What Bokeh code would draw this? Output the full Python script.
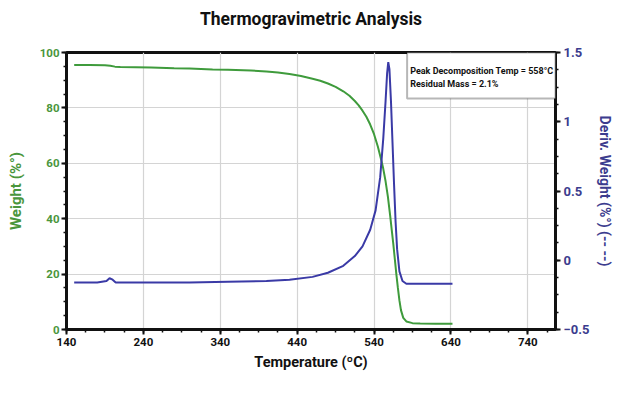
from bokeh.plotting import figure
from bokeh.models import LinearAxis, Range1d, FixedTicker, BoxAnnotation, Label, Title
from bokeh.embed import file_html
from bokeh.resources import INLINE

# ---- data ----
temp_w = [150, 170, 190, 197, 203, 210, 250, 280, 300, 330, 350, 380, 400, 415, 430, 445,
          460, 470, 480, 490, 500, 508, 515, 520, 525, 530, 535, 540, 545, 550, 552, 555,
          558, 561, 563, 565, 567, 569, 571, 573, 575, 578, 582, 590, 600, 620, 642]
weight = [95.5, 95.5, 95.4, 95.2, 94.9, 94.8, 94.6, 94.3, 94.2, 93.9, 93.8, 93.5, 93.1, 92.8, 92.2, 91.5,
          90.5, 89.8, 88.8, 87.6, 86.0, 84.4, 82.5, 80.9, 79.0, 76.8, 74.0, 70.5, 66.0, 60.5, 58.0, 53.5,
          48.0, 41.0, 36.0, 31.0, 25.5, 20.0, 15.0, 10.5, 7.0, 4.2, 2.9, 2.3, 2.2, 2.1, 2.1]

temp_d = [150, 180, 192, 196, 200, 204, 250, 300, 350, 400, 430, 460, 480, 500, 515, 525,
          535, 542, 548, 552, 555, 557, 558.5, 560, 562, 564, 566, 568, 570, 573, 577, 582, 600, 642]
deriv = [-0.16, -0.16, -0.15, -0.13, -0.14, -0.16, -0.16, -0.16, -0.155, -0.15, -0.14, -0.12, -0.09, -0.04, 0.03, 0.10,
         0.22, 0.36, 0.60, 0.88, 1.15, 1.35, 1.43, 1.38, 1.15, 0.85, 0.55, 0.28, 0.08, -0.08, -0.15, -0.17, -0.17, -0.17]

x_ticks = [140, 240, 340, 440, 540, 640, 740]
x_minor = [140 + 25 * i for i in range(26)]
w_ticks = [0, 20, 40, 60, 80, 100]
w_minor = [5 * i for i in range(21)]
d_ticks = [-0.5, 0.0, 0.5, 1.0, 1.5]
d_minor = [-0.5 + 0.125 * i for i in range(17)]

title_text = "Thermogravimetric Analysis"
x_label = "Temperature (\u00baC)"
w_label = "Weight (%\u00b0)"
d_label = "Deriv. Weight (%\u00b0) (-- --)"
note_lines = ["Peak Decomposition Temp = 558\u00b0C", "Residual Mass = 2.1%"]

# ---- styling ----
FONT = "Roboto"
GREEN = "#3f9b3c"
GREEN_TXT = "#4a963c"
BLUE = "#3a3aa6"
BLUE_TXT = "#3c3c8e"

p = figure(width=624, height=382, x_range=Range1d(140, 776), y_range=Range1d(0, 100),
           output_backend="svg", toolbar_location=None,
           min_border_left=66, min_border_right=69, min_border_top=52, min_border_bottom=53,
           title=title_text)
p.extra_y_ranges = {"deriv": Range1d(-0.5, 1.5)}
p.border_fill_color = "white"

p.title.align = "center"
p.title.text_font = FONT
p.title.text_font_size = "17.5px"
p.title.text_font_style = "bold"
p.title.text_color = "#111111"
# small empty spacer between the frame and the title
p.add_layout(Title(text=" ", text_font_size="7px"), "above")

p.outline_line_color = "#111111"
p.outline_line_width = 3
p.background_fill_color = "white"

def style_axis(ax, color, size):
    ax.axis_line_color = "#111111"
    ax.axis_line_width = 3
    ax.major_tick_line_color = "#111111"
    ax.minor_tick_line_color = "#111111"
    ax.major_tick_line_width = 2
    ax.minor_tick_line_width = 1.5
    ax.major_tick_out = 5
    ax.major_tick_in = 0
    ax.minor_tick_out = 3
    ax.minor_tick_in = 0
    ax.major_label_text_font = FONT
    ax.major_label_text_font_style = "bold"
    ax.major_label_text_font_size = size
    ax.major_label_text_color = color
    ax.axis_label_text_font = FONT
    ax.axis_label_text_font_style = "bold"

xa = p.xaxis[0]
xa.ticker = FixedTicker(ticks=x_ticks, minor_ticks=x_minor)
xa.axis_label = x_label
style_axis(xa, "#111111", "11.5px")
xa.axis_label_text_color = "#111111"
xa.axis_label_text_font_size = "14.5px"
xa.major_label_standoff = 3
xa.axis_label_standoff = 5

ya = p.yaxis[0]
ya.ticker = FixedTicker(ticks=w_ticks, minor_ticks=w_minor)
ya.axis_label = w_label
style_axis(ya, GREEN_TXT, "11.5px")
ya.axis_label_text_color = GREEN_TXT
ya.axis_label_text_font_size = "15px"
ya.major_label_standoff = 2
ya.axis_label_standoff = 12

ra = LinearAxis(y_range_name="deriv", ticker=FixedTicker(ticks=d_ticks, minor_ticks=d_minor),
                axis_label=d_label)
style_axis(ra, BLUE_TXT, "13px")
ra.axis_label_text_color = BLUE_TXT
ra.axis_label_text_font_size = "14px"
ra.major_label_standoff = 3
ra.axis_label_standoff = 5
p.add_layout(ra, "right")

p.xgrid.ticker = FixedTicker(ticks=x_ticks)
p.ygrid.ticker = FixedTicker(ticks=w_ticks)
p.xgrid.grid_line_color = "#d4d4d4"
p.ygrid.grid_line_color = "#d4d4d4"
p.xgrid.grid_line_width = 1.2
p.ygrid.grid_line_width = 1.2

p.line(temp_w, weight, line_color=GREEN, line_width=2)
p.line(temp_d, deriv, line_color=BLUE, line_width=2, y_range_name="deriv")

box = BoxAnnotation(left=583, right=776, bottom=83.4, top=100, fill_color="white", fill_alpha=1,
                    line_color="#111111", line_width=2, level="overlay")
p.add_layout(box)
for txt, yv in zip(note_lines, [93.4, 88.6]):
    p.add_layout(Label(x=587, y=yv, text=txt, text_font=FONT, text_font_style="bold",
                       text_font_size="9px", text_color="#111111", text_baseline="middle",
                       level="overlay"))

open("out.html", "w").write(file_html(p, INLINE))
